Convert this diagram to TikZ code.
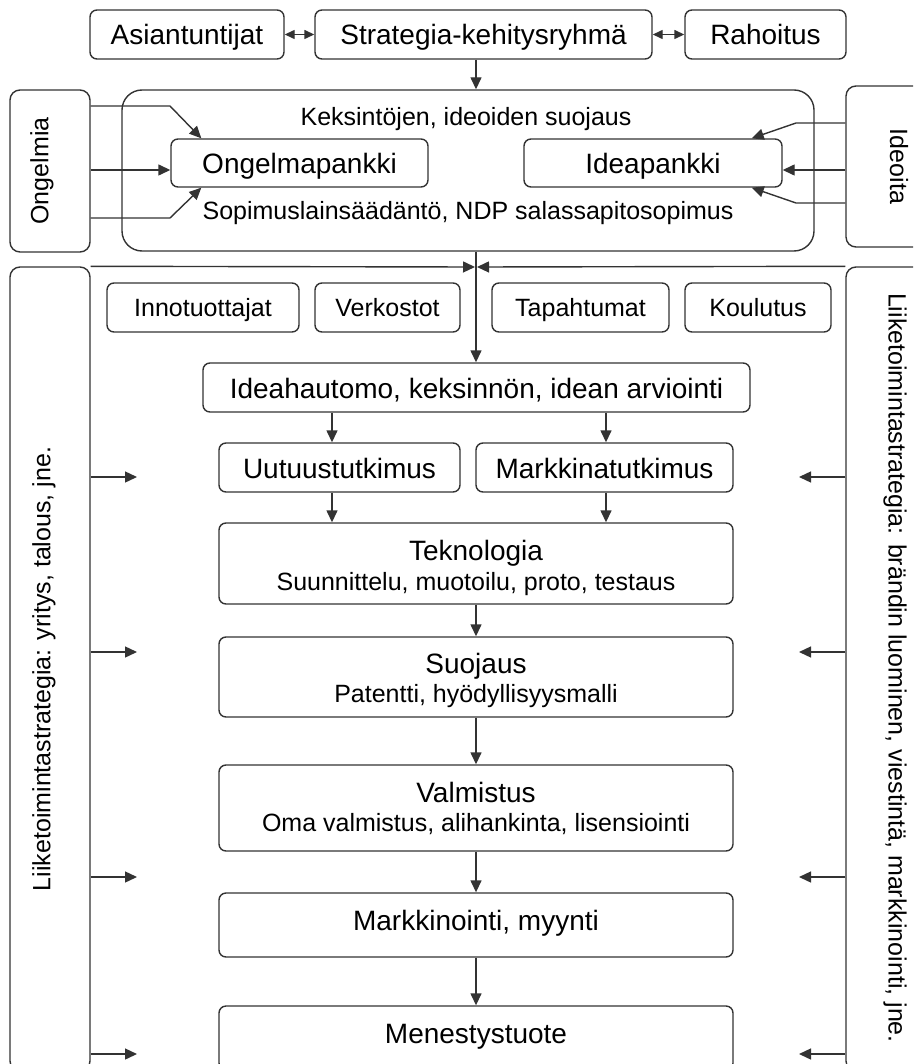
\documentclass[tikz,border=0pt]{standalone}
\usepackage{fontspec}
\setmainfont{Liberation Sans}
\usetikzlibrary{arrows.meta,calc}
\begin{document}
\begin{tikzpicture}[x=1pt,y=-1pt,
  ln/.style={draw=black!80, line width=1.4pt},
  bx/.style={ln, rounded corners=7pt, inner sep=0pt, align=center},
  big/.style={font=\fontsize{28}{30}\selectfont, text height=21pt, text depth=0pt},
  sml/.style={font=\fontsize{25}{30}\selectfont, text height=17pt, text depth=0pt},
  lowtxt/.style={text height=20pt, text depth=10pt},
  plain/.style={inner sep=0pt, anchor=base},
  arr/.style={ln, -{Triangle[length=12pt,width=11pt]}},
  darr/.style={ln, {Triangle[length=10pt,width=9pt]}-{Triangle[length=10pt,width=9pt]}},
]
\useasboundingbox (0,0) rectangle (913,1064);
\clip (0,0) rectangle (913,1064);

% top row
\node[bx,big,minimum width=194pt,minimum height=49pt] (asi) at (187,34.5) {Asiantuntijat};
\node[bx,big,minimum width=337pt,minimum height=49pt] (strat) at (483.5,34.5) {Strategia-kehitysryhmä};
\node[bx,big,minimum width=161pt,minimum height=49pt] (rah) at (765.5,34.5) {Rahoitus};

% second band
\node[bx,rounded corners=10pt,minimum width=80pt,minimum height=162pt] (ongelmia) at (50,171) {};
\node[font=\fontsize{25}{30}\selectfont,rotate=90] (ongtxt) at (42,171) {Ongelmia};
\node[bx,rounded corners=20pt,minimum width=692pt,minimum height=161pt] (bigbox) at (468,170.5) {};
\node[bx,rounded corners=10pt,minimum width=108pt,minimum height=161pt] (ideoita) at (900,166.5) {};
\node[font=\fontsize{25}{30}\selectfont,rotate=-90] (idetxt) at (899,166.5) {Ideoita};
\node[plain,font=\fontsize{25}{30}\selectfont] (kek) at (466,126) {Keksintöjen, ideoiden suojaus};
\node[bx,big,minimum width=257pt,minimum height=48pt] (ongpankki) at (299.5,163) {Ongelmapankki};
\node[bx,big,minimum width=258pt,minimum height=48pt] (ideapankki) at (653,163) {Ideapankki};
\node[plain,font=\fontsize{25}{30}\selectfont] (sopimus) at (468,220) {Sopimuslainsäädäntö, NDP salassapitosopimus};

% side boxes
\node[bx,rounded corners=10pt,minimum width=80pt,minimum height=804pt] (lside) at (50,669) {};
\node[font=\fontsize{25}{30}\selectfont,rotate=90] (ltxt) at (44,669) {Liiketoimintastrategia: yritys, talous, jne.};
\node[bx,rounded corners=10pt,minimum width=108pt,minimum height=804pt] (rside) at (900,669) {};
\node[font=\fontsize{25}{30}\selectfont,rotate=-90] (rtxt) at (895,668) {Liiketoimintastrategia: brändin luominen, viestintä, markkinointi, jne.};

% small boxes row
\node[bx,sml,minimum width=192pt,minimum height=49pt] (inno) at (203,307.5) {Innotuottajat};
\node[bx,sml,minimum width=145pt,minimum height=49pt] (verk) at (387.5,307.5) {Verkostot};
\node[bx,sml,minimum width=177pt,minimum height=49pt] (tapa) at (580.5,307.5) {Tapahtumat};
\node[bx,sml,minimum width=146pt,minimum height=49pt] (koul) at (758,307.5) {Koulutus};

% main flow
\node[bx,big,minimum width=547pt,minimum height=49pt] (ideah) at (476.5,387.5) {Ideahautomo, keksinnön, idean arviointi};
\node[bx,big,minimum width=241pt,minimum height=49pt] (uutuus) at (339.5,467.5) {Uutuustutkimus};
\node[bx,big,minimum width=257pt,minimum height=49pt] (markt) at (604.5,467.5) {Markkinatutkimus};

\node[bx,minimum width=514pt,minimum height=81pt] (tekno) at (476,563.5) {};
\node[plain,font=\fontsize{28}{30}\selectfont] (teknoT) at (476,560) {Teknologia};
\node[plain,font=\fontsize{25}{30}\selectfont] (teknoS) at (476,590) {Suunnittelu, muotoilu, proto, testaus};

\node[bx,minimum width=514pt,minimum height=80pt] (suojaus) at (476,677) {};
\node[plain,font=\fontsize{28}{30}\selectfont] (suojausT) at (476,673) {Suojaus};
\node[plain,font=\fontsize{25}{30}\selectfont] (suojausS) at (476,702.5) {Patentti, hyödyllisyysmalli};

\node[bx,minimum width=514pt,minimum height=86pt] (valm) at (476,808) {};
\node[plain,font=\fontsize{28}{30}\selectfont] (valmT) at (476,802) {Valmistus};
\node[plain,font=\fontsize{25}{30}\selectfont] (valmS) at (476,831) {Oma valmistus, alihankinta, lisensiointi};

\node[bx,big,lowtxt,minimum width=514pt,minimum height=64pt] (markk) at (476,925) {Markkinointi, myynti};
\node[bx,big,lowtxt,minimum width=514pt,minimum height=64pt] (menes) at (476,1038) {Menestystuote};

% helper coordinates
\coordinate (hj) at (476,267);
\coordinate (o1) at (170,106);
\coordinate (o2) at (0,170);
\coordinate (o3) at (170,218);
\coordinate (i1) at (796,123);
\coordinate (i3) at (796,203);
\coordinate (xL) at (332,0);
\coordinate (xR) at (606,0);
\coordinate (la1) at (137,477);
\coordinate (la2) at (137,652);
\coordinate (la3) at (137,877);
\coordinate (la4) at (137,1054);
\coordinate (ra1) at (799,477);
\coordinate (ra2) at (799,652);
\coordinate (ra3) at (799,877);
\coordinate (ra4) at (799,1054);

% connectors
\draw[darr] (asi) -- (strat);
\draw[darr] (strat) -- (rah);
\draw[arr] (strat.south -| hj) -- (bigbox.north -| hj);

\draw[arr] (ongelmia.east |- o1) -- (o1) -- ($(ongpankki.north west)+(31,0)$);
\draw[arr] (ongelmia.east |- o2) -- (ongpankki.west |- o2);
\draw[arr] (ongelmia.east |- o3) -- (o3) -- ($(ongpankki.south west)+(31,0)$);

\draw[arr] (ideoita.west |- i1) -- (i1) -- ($(ideapankki.north east)+(-31,0)$);
\draw[arr] (ideoita.west |- o2) -- (ideapankki.east |- o2);
\draw[arr] (ideoita.west |- i3) -- (i3) -- ($(ideapankki.south east)+(-31,0)$);

\draw[arr] (lside.north east) -- ($(hj)+(-1,0)$);
\draw[arr] (rside.north west) -- ($(hj)+(1,0)$);
\draw[arr] (bigbox.south -| hj) -- (ideah.north -| hj);

\draw[arr] (ideah.south -| xL) -- (uutuus.north -| xL);
\draw[arr] (ideah.south -| xR) -- (markt.north -| xR);
\draw[arr] (uutuus.south -| xL) -- (tekno.north -| xL);
\draw[arr] (markt.south -| xR) -- (tekno.north -| xR);
\draw[arr] (tekno) -- (suojaus);
\draw[arr] (suojaus) -- (valm);
\draw[arr] (valm) -- (markk);
\draw[arr] (markk) -- (menes);

\foreach \k in {1,2,3,4}{
  \draw[arr] (lside.east |- la\k) -- (la\k);
  \draw[arr] (rside.west |- ra\k) -- (ra\k);
}
\end{tikzpicture}
\end{document}
